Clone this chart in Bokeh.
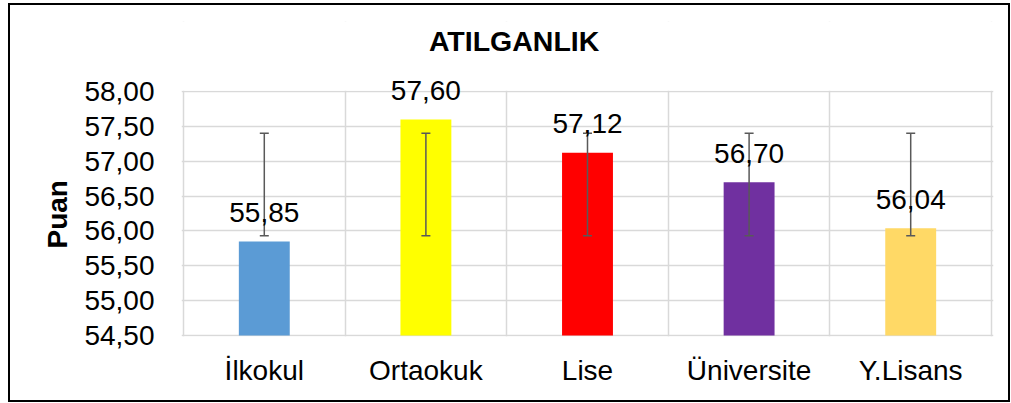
from bokeh.plotting import figure
from bokeh.models import (ColumnDataSource, FactorRange, Range1d, FixedTicker,
                          Whisker, TeeHead, Label, BoxAnnotation, Title)
from bokeh.embed import file_html
from bokeh.resources import INLINE

# ---- data ----
categories = ["İlkokul", "Ortaokuk", "Lise", "Üniversite", "Y.Lisans"]
values = [55.85, 57.60, 57.12, 56.70, 56.04]
err_lower = [55.93, 55.93, 55.93, 55.93, 55.93]
err_upper = [57.40, 57.40, 57.40, 57.40, 57.40]
bar_colors = ["#5b9bd5", "#ffff00", "#ff0000", "#7030a0", "#ffd966"]
y_ticks = [54.5, 55.0, 55.5, 56.0, 56.5, 57.0, 57.5, 58.0]
y_tick_labels = ["54,50", "55,00", "55,50", "56,00", "56,50", "57,00", "57,50", "58,00"]
title_text = "ATILGANLIK"
y_label = "Puan"

FONT = "Liberation Sans"
FS = "28px"

# layout geometry (pixels)
PLOT_W, PLOT_H = 810, 244          # visible plotting area (54,50 .. 58,00)
EXTRA_TOP = 70                     # unclipped room above for title and labels
EDGE = 1                           # 1px so the edge grid lines are drawn
px_per_unit = PLOT_H / (y_ticks[-1] - y_ticks[0])
px_per_cat = PLOT_W / len(categories)
y_bottom = y_ticks[0] - EDGE / px_per_unit
y_top = y_ticks[-1] + EXTRA_TOP / px_per_unit

src = ColumnDataSource(dict(
    cat=categories,
    val=values,
    lo=err_lower,
    hi=err_upper,
    color=bar_colors,
))

p = figure(
    x_range=FactorRange(factors=categories, range_padding=2 * EDGE / px_per_cat,
                        range_padding_units="absolute"),
    y_range=Range1d(y_bottom, y_top),
    frame_width=PLOT_W + 2 * EDGE, frame_height=PLOT_H + EXTRA_TOP + EDGE,
    min_border_left=171, min_border_right=15,
    min_border_top=16, min_border_bottom=64,
    output_backend="svg", toolbar_location=None,
)
p.styles = {"border": "2px solid #000000", "margin-left": "8px", "margin-top": "3px"}
p.background_fill_color = "white"
p.border_fill_color = "white"
p.outline_line_color = None

# grids
p.ygrid.ticker = FixedTicker(ticks=y_ticks)
p.ygrid.grid_line_color = "#d9d9d9"
p.ygrid.grid_line_width = 1.5
p.ygrid.level = "image"
p.xgrid.ticker = FixedTicker(ticks=list(range(len(categories) + 1)))
p.xgrid.grid_line_color = "#d9d9d9"
p.xgrid.grid_line_width = 1.5
p.xgrid.level = "image"

# blank out the vertical grid lines above the top of the value axis
mask = BoxAnnotation(bottom=y_ticks[-1] + 0.8 / px_per_unit, fill_color="white",
                     fill_alpha=1.0, line_color=None, level="underlay")
p.add_layout(mask)

# title
title = Label(x=246 / px_per_cat, y=y_ticks[-1], text=title_text,
              text_align="left", text_baseline="alphabetic", y_offset=51,
              text_font=FONT, text_font_size="28.5px", text_font_style="bold",
              text_color="#000000")
title.level = "overlay"
p.add_layout(title)

# bars
p.vbar(x="cat", top="val", bottom=y_ticks[0], width=0.315,
       fill_color="color", line_color=None, source=src)

# error bars
wh = Whisker(base="cat", lower="lo", upper="hi", source=src,
             line_color="#595959", line_width=1.5,
             upper_head=TeeHead(size=9, line_color="#595959", line_width=1.5),
             lower_head=TeeHead(size=9, line_color="#595959", line_width=1.5))
wh.level = "overlay"
p.add_layout(wh)

# data labels; x is the categorical range's synthetic centre of each factor
for i, v in enumerate(values):
    lab = Label(x=i + 0.5, y=v, text=f"{v:.2f}".replace(".", ","),
                text_align="center", text_baseline="alphabetic",
                y_offset=29, text_font=FONT, text_font_size=FS,
                text_color="#000000")
    lab.level = "overlay"
    p.add_layout(lab)

# y axis
p.yaxis.ticker = FixedTicker(ticks=y_ticks)
p.yaxis.major_label_overrides = {t: l for t, l in zip(y_ticks, y_tick_labels)}
p.yaxis.axis_line_color = None
p.yaxis.major_tick_line_color = None
p.yaxis.minor_tick_line_color = None
p.yaxis.major_tick_out = 0
p.yaxis.major_tick_in = 0
p.yaxis.major_label_standoff = 27
p.yaxis.major_label_text_font = FONT
p.yaxis.major_label_text_font_size = FS
p.yaxis.major_label_text_color = "#000000"

# y axis title, centred on the 54,50..58,00 span
ytitle = Title(text=y_label, align="left", offset=88, standoff=18,
               text_font=FONT, text_font_size=FS, text_font_style="bold",
               text_color="#000000")
p.add_layout(ytitle, "left")

# x axis
p.xaxis.axis_line_color = None
p.xaxis.major_tick_line_color = None
p.xaxis.major_tick_out = 0
p.xaxis.major_tick_in = 0
p.xaxis.major_label_standoff = 18
p.xaxis.major_label_text_font = FONT
p.xaxis.major_label_text_font_size = FS
p.xaxis.major_label_text_color = "#000000"

open("out.html", "w").write(file_html(p, INLINE))
